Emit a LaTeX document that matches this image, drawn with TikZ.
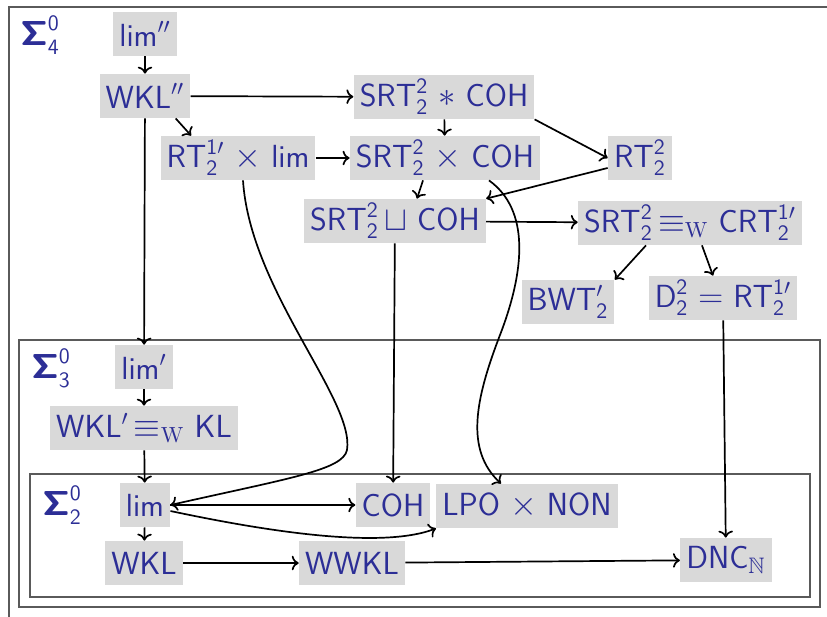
\documentclass[tikz,border=0pt]{standalone}
\usepackage{amssymb}
\usetikzlibrary{arrows.meta}
\definecolor{ink}{RGB}{44,46,150}
\definecolor{boxgray}{RGB}{217,217,217}
\definecolor{framegray}{RGB}{90,90,90}
\newcommand{\sidx}[2]{^{\mathsf{#1}}_{\mathsf{#2}}}
\newcommand{\sigmalabel}[1]{$\mbox{\boldmath$\mathsf{\Sigma}$}^{\mathsf{0}}_{\mathsf{#1}}$}
\newcommand{\weq}{\,$\equiv_{\mathrm{W}}$}
\begin{document}
\begin{tikzpicture}[x=0.5pt,y=-0.5pt,
  prob/.style={fill=boxgray,text=ink,inner xsep=3pt,inner ysep=2pt,minimum height=22pt,
    font=\fontsize{16}{19}\selectfont\sffamily},
  lvl/.style={text=ink,font=\fontsize{16}{19}\selectfont\sffamily,inner sep=1pt},
  frame/.style={draw=framegray,line width=0.8pt},
  arr/.style={->,line width=0.85pt,black}]
\useasboundingbox (0,0) rectangle (827,617);
% level frames
\begin{scope}
  \clip (0,0) rectangle (827,617);
  \draw[frame] (9,7) rectangle (840,640);
\end{scope}
\draw[frame] (19,340) rectangle (820,607);
\draw[frame] (30,474) rectangle (810,597);
\node[lvl] (s4) at (40,35) {\sigmalabel{4}};
\node[lvl] (s3) at (51,368) {\sigmalabel{3}};
\node[lvl] (s2) at (62,505) {\sigmalabel{2}};
% problems
\node[prob] (limpp) at (145,34) {lim$''$};
\node[prob] (wklpp) at (145,96) {WKL$''$};
\node[prob] (srtstar) at (444,97) {SRT$\sidx22$ $\ast$ COH};
\node[prob] (rtlim) at (238,158) {RT$^{\mathsf{1}\prime}_{\mathsf{2}}$ $\times$ lim};
\node[prob] (srttimes) at (445,158) {SRT$\sidx22$ $\times$ COH};
\node[prob] (rt22) at (640,158) {RT$\sidx22$};
\node[prob] (srtsqcup) at (395,221) {SRT$\sidx22$\,$\sqcup$ COH};
\node[prob] (srtcrt) at (690,223) {SRT$\sidx22$\weq\ CRT$^{\mathsf{1}\prime}_{\mathsf{2}}$};
\node[prob] (bwt) at (568,302) {BWT$'_{\mathsf{2}}$};
\node[prob] (d22) at (723,298) {D$\sidx22$ $=$ RT$^{\mathsf{1}\prime}_{\mathsf{2}}$};
\node[prob] (limp) at (144,367) {lim$'$};
\node[prob] (wklp) at (144,428) {WKL$'$\weq\ KL};
\node[prob] (lim) at (145,505) {lim};
\node[prob] (coh) at (393,505) {COH};
\node[prob] (lpo) at (527,506) {LPO $\times$ NON};
\node[prob] (wkl) at (144,563) {WKL};
\node[prob] (wwkl) at (352,563) {WWKL};
\node[prob] (dnc) at (726,560) {DNC$_{\mathbb{N}}$};
% reductions
\draw[arr] (limpp) -- (wklpp);
\draw[arr] (wklpp) -- (srtstar);
\draw[arr] ([xshift=-7.5pt]wklpp.south east) -- ([xshift=15.5pt]rtlim.north west);
\draw[arr] (wklpp) -- (limp);
\draw[arr] (rtlim) -- (srttimes);
\draw[arr] (srtstar) -- (srttimes);
\draw[arr] (srtstar.south east) -- (rt22.west);
\draw[arr] ([yshift=-5pt]rt22.west) -- (srtsqcup.north east);
\draw[arr] ([xshift=-11pt]srttimes.south) -- ([xshift=11pt]srtsqcup.north);
\draw[arr] (srtsqcup) -- (srtcrt);
\draw[arr] ([xshift=-22pt]srtcrt.south) -- (bwt.north east);
\draw[arr] ([xshift=6pt]srtcrt.south) -- ([xshift=-5pt]d22.north);
\draw[arr] (d22) -- (dnc);
\draw[arr] (srtsqcup) -- (coh);
\draw[arr] ([xshift=22pt]srttimes.south) .. controls (530,210) and (525,270) .. (500,335)
  .. controls (475,400) and (465,450) .. ([xshift=-13pt]lpo.north);
\draw[arr] ([xshift=2.5pt]rtlim.south) .. controls (250,290) and (355,400) .. (347,450)
  .. controls (343,470) and (290,478) .. (lim.east);
\draw[arr] (limp) -- (wklp);
\draw[arr] (wklp) -- (lim);
\draw[arr] (lim) -- (coh);
\draw[arr] ([yshift=-3pt]lim.east) .. controls (260,530) and (380,550) .. (lpo.south west);
\draw[arr] (lim) -- (wkl);
\draw[arr] (wkl) -- (wwkl);
\draw[arr] (wwkl) -- (dnc);
\end{tikzpicture}
\end{document}
